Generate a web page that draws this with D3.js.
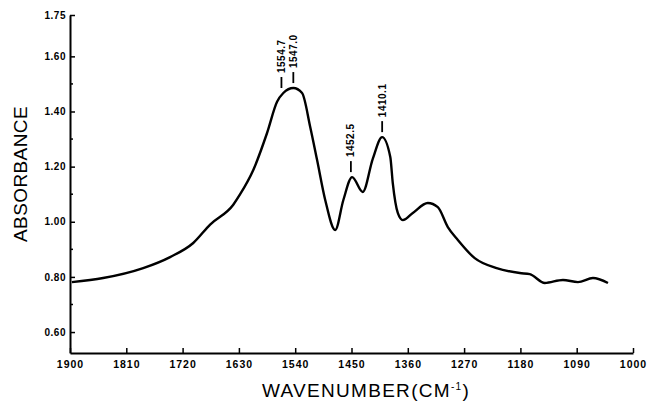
<!DOCTYPE html>
<html>
<head>
<meta charset="utf-8">
<script src="https://cdn.jsdelivr.net/npm/d3@7"></script>
<style>
  html, body { margin: 0; padding: 0; background: #fff; }
  svg { display: block; }
</style>
</head>
<body>
<svg id="chart" width="652" height="403"></svg>
<script>
// ---- data ----
const wavenumber = [1897, 1847, 1783, 1740, 1703, 1676, 1639, 1628, 1607, 1585, 1569, 1559, 1543, 1529, 1516, 1505, 1492, 1476, 1463, 1449, 1432, 1416, 1401, 1388, 1384, 1376, 1368, 1352, 1328, 1312, 1296, 1280, 1253, 1218, 1181, 1165, 1141, 1112, 1088, 1064, 1040];
const absorbance = [0.781, 0.796, 0.832, 0.872, 0.923, 0.990, 1.062, 1.100, 1.188, 1.322, 1.435, 1.467, 1.485, 1.467, 1.344, 1.224, 1.079, 0.970, 1.079, 1.162, 1.108, 1.228, 1.307, 1.235, 1.140, 1.032, 1.006, 1.032, 1.068, 1.053, 0.981, 0.934, 0.868, 0.832, 0.814, 0.810, 0.778, 0.789, 0.781, 0.796, 0.778];

const peakLabels = ["1554.7", "1547.0", "1452.5", "1410.1"];
const peakWavenumber = [1562, 1543, 1451, 1401];
const peakAbsorbance = [1.467, 1.485, 1.162, 1.307];

const xTickValues = [1900, 1810, 1720, 1630, 1540, 1450, 1360, 1270, 1180, 1090, 1000];
const yTickValues = [0.60, 0.80, 1.00, 1.20, 1.40, 1.60, 1.75];
const yTickLabels = ["0.60", "0.80", "1.00", "1.20", "1.40", "1.60", "1.75"];
const yMinorTicks = [0.70, 0.90, 1.10, 1.30, 1.50];

const xTitle = "WAVENUMBER(CM";
const xTitleSup = "-1";
const yTitle = "ABSORBANCE";

// ---- layout ----
const svg = d3.select("#chart");
const mLeft = 70, mRight = 633, mTop = 15, mBottom = 353;

const x = d3.scaleLinear().domain([1900, 1000]).range([mLeft, mRight]);
const y = d3.scaleLinear().domain([0.524, 1.75]).range([mBottom, mTop]);

const tickFont = "'Liberation Sans', Arial, sans-serif";

// x axis
const xAxis = d3.axisBottom(x)
  .tickValues(xTickValues)
  .tickFormat(d3.format("d"))
  .tickSize(-5)
  .tickSizeOuter(0)
  .tickPadding(8);
const gx = svg.append("g").attr("transform", `translate(0,${mBottom})`).call(xAxis);
gx.select(".domain").attr("stroke-width", 2);
gx.selectAll(".tick line").attr("stroke-width", 1.5);
gx.selectAll(".tick text")
  .attr("font-family", tickFont).attr("font-size", 10.5).attr("font-weight", "bold")
  .attr("letter-spacing", "1px").attr("fill", "#000");

// y axis
const yAxis = d3.axisLeft(y)
  .tickValues(yTickValues)
  .tickFormat((d, i) => yTickLabels[i])
  .tickSize(-5)
  .tickSizeOuter(0)
  .tickPadding(4);
const gy = svg.append("g").attr("transform", `translate(${mLeft},0)`).call(yAxis);
gy.select(".domain").attr("stroke-width", 2);
gy.selectAll(".tick line").attr("stroke-width", 1.5);
gy.selectAll(".tick text")
  .attr("font-family", tickFont).attr("font-size", 10).attr("font-weight", "bold")
  .attr("letter-spacing", "0.5px").attr("fill", "#000");

// y minor ticks
svg.append("g").selectAll("line").data(yMinorTicks).join("line")
  .attr("x1", mLeft).attr("x2", mLeft + 3)
  .attr("y1", d => y(d)).attr("y2", d => y(d))
  .attr("stroke", "#000").attr("stroke-width", 1.5);

// curve
const pts = wavenumber.map((w, i) => [w, absorbance[i]]);
const line = d3.line()
  .x(d => x(d[0]))
  .y(d => y(d[1]))
  .curve(d3.curveMonotoneX);
svg.append("path")
  .datum(pts)
  .attr("d", line)
  .attr("fill", "none")
  .attr("stroke", "#000")
  .attr("stroke-width", 2.4)
  .attr("stroke-linejoin", "round");

// peak annotations
const ann = svg.append("g");
peakLabels.forEach((lab, i) => {
  const px = x(peakWavenumber[i]);
  const py = y(peakAbsorbance[i]);
  const lb = py - 5, lt = py - 16;
  ann.append("line")
    .attr("x1", px).attr("x2", px).attr("y1", lb).attr("y2", lt)
    .attr("stroke", "#000").attr("stroke-width", 1.8);
  ann.append("text")
    .attr("transform", `translate(${px + 3.5},${lt - 4}) rotate(-90)`)
    .attr("text-anchor", "start")
    .attr("font-family", tickFont).attr("font-size", 10).attr("font-weight", "bold")
    .attr("letter-spacing", "0.5px")
    .text(lab);
});

// axis titles
const xt = svg.append("text")
  .attr("x", 366).attr("y", 397)
  .attr("text-anchor", "middle")
  .attr("font-family", tickFont).attr("font-size", 19)
  .attr("letter-spacing", "1.3px")
  .attr("fill", "#000");
xt.append("tspan").text(xTitle);
xt.append("tspan").attr("dy", -7).attr("font-size", 10).text(xTitleSup);
xt.append("tspan").attr("dy", 7).text(")");

svg.append("text")
  .attr("transform", "translate(27,174) rotate(-90)")
  .attr("text-anchor", "middle")
  .attr("font-family", tickFont).attr("font-size", 19)
  .attr("letter-spacing", "0.4px")
  .attr("fill", "#000")
  .text(yTitle);
</script>
</body>
</html>
